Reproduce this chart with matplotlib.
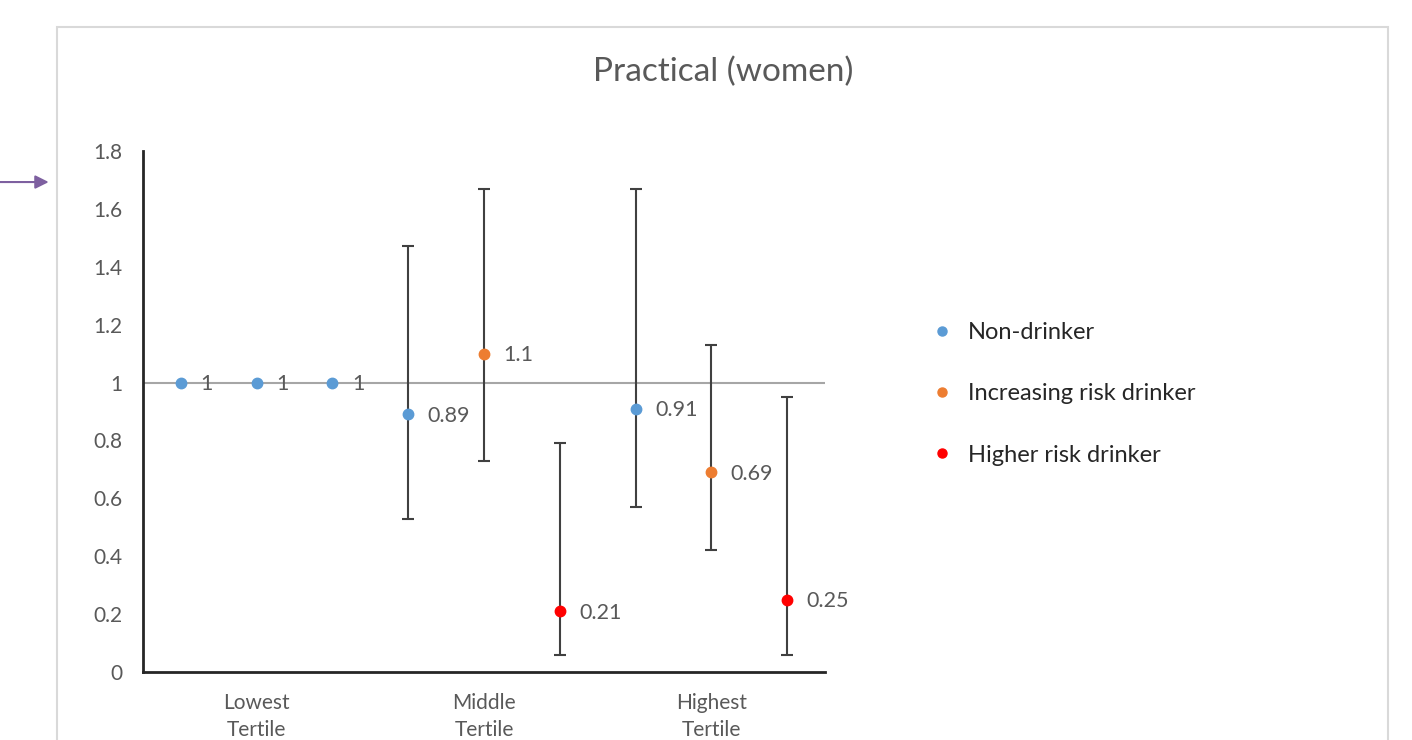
import numpy as np
import matplotlib.pyplot as plt
from matplotlib.patches import Rectangle, FancyArrowPatch
from matplotlib.lines import Line2D

# data
groups = ['Lowest\nTertile', 'Middle\nTertile', 'Highest\nTertile']
series = ['Non-drinker', 'Increasing risk drinker', 'Higher risk drinker']
colors = ['#5B9BD5', '#ED7D31', '#FF0000']

# one entry per point, left to right
pt_series = [0, 0, 0, 0, 1, 2, 0, 1, 2]
pt_value = [1, 1, 1, 0.89, 1.1, 0.21, 0.91, 0.69, 0.25]
pt_low = [None, None, None, 0.53, 0.73, 0.06, 0.57, 0.42, 0.06]
pt_high = [None, None, None, 1.47, 1.67, 0.79, 1.67, 1.13, 0.95]

plt.rcParams['font.family'] = ['Lato', 'DejaVu Sans']
grey = '#595959'

fig = plt.figure(figsize=(14.12, 7.4), dpi=100)
ax = fig.add_axes([0.1013, 0.0919, 0.4830, 0.7041])

x = np.arange(1, len(pt_value) + 1)
ax.axhline(1, color='#A6A6A6', lw=1.5, zorder=1)

for i in range(len(x)):
    if pt_low[i] is not None:
        ax.errorbar(x[i], pt_value[i],
                    yerr=[[pt_value[i] - pt_low[i]], [pt_high[i] - pt_value[i]]],
                    fmt='none', ecolor='#404040', elinewidth=1.5, capsize=4,
                    capthick=1.5, zorder=2)
    ax.plot(x[i], pt_value[i], 'o', color=colors[pt_series[i]], ms=7.5,
            zorder=3)
    ax.annotate('%g' % pt_value[i], (x[i], pt_value[i]), xytext=(14, -1),
                textcoords='offset points', va='center', ha='left',
                fontsize=15.5, color=grey)

ax.set_xlim(0.5, 9.5)
ax.set_ylim(0, 1.8)
ax.set_yticks(np.arange(0, 1.81, 0.2))
ax.set_yticklabels(['%g' % round(v, 1) for v in np.arange(0, 1.81, 0.2)])
ax.set_xticks([2, 5, 8])
ax.set_xticklabels(groups, linespacing=1.45)
ax.tick_params(axis='both', length=0, labelsize=15, colors=grey)
ax.tick_params(axis='x', pad=15)
ax.tick_params(axis='y', pad=15)
for s in ['top', 'right']:
    ax.spines[s].set_visible(False)
for s in ['left', 'bottom']:
    ax.spines[s].set_linewidth(2)
    ax.spines[s].set_color('#262626')

fig.text(0.5124, 0.903, 'Practical (women)', ha='center', va='center',
         fontsize=24, color=grey)

handles = [Line2D([], [], ls='none', marker='o', color=c, ms=6.5) for c in colors]
fig.legend(handles, series, loc='center left', bbox_to_anchor=(0.6586, 0.4676),
           frameon=False, fontsize=17, labelspacing=1.7, handletextpad=0.6,
           handlelength=1.0, borderpad=0, borderaxespad=0,
           labelcolor='#262626')

# outer frame and arrow
fig.add_artist(Rectangle((0.0404, -0.05), 0.9426, 1.0135, fill=False,
                         ec='#D9D9D9', lw=1.5, transform=fig.transFigure))
fig.add_artist(FancyArrowPatch((0.0, 0.754), (0.0345, 0.754),
                               arrowstyle='-|>', mutation_scale=20,
                               color='#7E60A0', lw=1.5, shrinkA=0, shrinkB=0,
                               transform=fig.transFigure))

fig.savefig('out.png', dpi=100)
